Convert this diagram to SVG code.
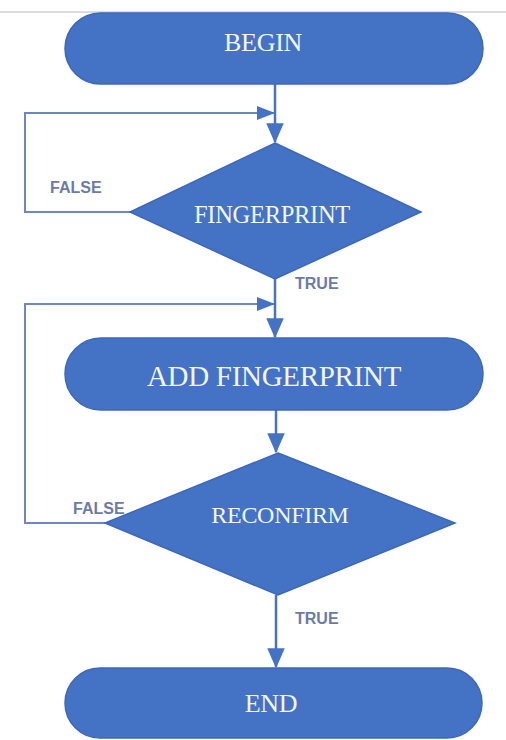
<svg xmlns="http://www.w3.org/2000/svg" width="506" height="740" viewBox="0 0 506 740">
<defs>
<style>
.shape{fill:#4472C4;stroke:#3d68b8;stroke-width:1.5}
.t{font-family:"Liberation Serif","Times New Roman",serif;fill:#f2f6ff;text-anchor:middle;letter-spacing:-0.3px}
.lbl{font-family:"Liberation Sans",Arial,sans-serif;font-weight:bold;font-size:16px;fill:#6b7ba8}
.conn{fill:none;stroke:#4472C4;stroke-width:2.5}
.loop{fill:none;stroke:#6f87c0;stroke-width:2}
</style>
<marker id="ah" markerWidth="8" markerHeight="7" refX="7.5" refY="3.5" orient="auto" markerUnits="strokeWidth">
<path d="M0,0 L8,3.5 L0,7 Z" fill="#4472C4"/>
</marker>
<marker id="ah2" markerWidth="9" markerHeight="7" refX="8.5" refY="3.5" orient="auto" markerUnits="strokeWidth">
<path d="M0,0 L9,3.5 L0,7 Z" fill="#4472C4"/>
</marker>
</defs>
<rect width="506" height="740" fill="#ffffff"/>
<line x1="0" y1="12" x2="506" y2="12" stroke="#dcdcdc" stroke-width="2"/>
<g id="connectors">
<line class="conn" x1="275" y1="84" x2="275" y2="142" marker-end="url(#ah)"/>
<polyline class="loop" points="130,212 25,212 25,113 274,113" marker-end="url(#ah2)"/>
<line class="conn" x1="275" y1="278" x2="275" y2="337" marker-end="url(#ah)"/>
<polyline class="loop" points="107,523 25,523 25,304 274,304" marker-end="url(#ah2)"/>
<line class="conn" x1="276" y1="410" x2="276" y2="452" marker-end="url(#ah)"/>
<line class="conn" x1="276" y1="595" x2="276" y2="667" marker-end="url(#ah)"/>
<text class="lbl" x="50" y="193">FALSE</text>
<text class="lbl" x="295" y="289">TRUE</text>
<text class="lbl" x="73" y="514">FALSE</text>
<text class="lbl" x="295" y="624">TRUE</text>
</g>
<g id="begin">
<rect class="shape" x="65" y="13" width="418" height="71" rx="35.5"/>
<text class="t" x="263" y="51" font-size="26">BEGIN</text>
</g>
<g id="fingerprint">
<polygon class="shape" points="275,143 421,212 275,279 130,212"/>
<text class="t" x="272" y="223" font-size="24.5">FINGERPRINT</text>
</g>
<g id="add-fingerprint">
<rect class="shape" x="65" y="338" width="418" height="72" rx="36"/>
<text class="t" x="274" y="386" font-size="29">ADD FINGERPRINT</text>
</g>
<g id="reconfirm">
<polygon class="shape" points="278,453 455,523 278,595 105,523"/>
<text class="t" x="280" y="523" font-size="24">RECONFIRM</text>
</g>
<g id="end">
<rect class="shape" x="65" y="668" width="417" height="70" rx="35"/>
<text class="t" x="271" y="712" font-size="26">END</text>
</g>
</svg>
